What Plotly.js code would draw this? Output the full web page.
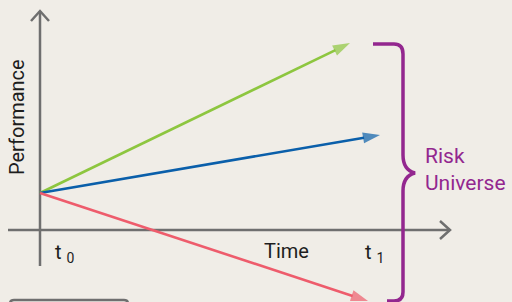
<!DOCTYPE html>
<html>
<head>
<meta charset="utf-8">
<script src="https://cdn.plot.ly/plotly-3.0.1.min.js"></script>
<style>
  html, body { margin: 0; padding: 0; background: #F0EDE7; }
  #chart { width: 512px; height: 302px; }
</style>
</head>
<body>
<div id="chart"></div>
<script>
// ---- data (conceptual units: time from t0, performance above the time axis) ----
const scenarioNames = ['Upside', 'Expected', 'Downside'];
const startTime = 0;
const startPerf = 37;
const endTime = [310, 340, 328];
const endPerf = [187, 95, -71];

const timeAxisSpan = [-32, 410];
const perfAxisSpan = [-36, 219];

const tickLabels = ['t <sub>0</sub>', 't <sub>1</sub>'];
const tickTimes = [13, 323];
const axisTitles = ['Time', 'Performance'];
const bracketLabel = 'Risk<br>Universe';

// brace: left end, spine, tip, top and bottom values
const braceLeft = [333, 347];
const braceSpine = 363;
const braceTip = [375, 57];
const braceTopBottom = [186, -71];

// ---- styles ----
const lineColors = ['#8DC63F', '#0A5FAA', '#EE5C6C'];
const axisColor = '#6F6F6F';
const purple = '#93278F';
const textColor = '#1E1E1E';
const FONT = 'Roboto, "Open Sans", Arial, sans-serif';
const chevLen = 10, chevHalf = 9;

const traces = [];
// axes with open chevron heads
traces.push({
  type: 'scatter', mode: 'lines',
  x: [timeAxisSpan[0], timeAxisSpan[1], null,
      timeAxisSpan[1] - chevLen, timeAxisSpan[1], timeAxisSpan[1] - chevLen],
  y: [0, 0, null, chevHalf, 0, -chevHalf],
  line: { color: axisColor, width: 2.5 }, hoverinfo: 'skip', showlegend: false
});
traces.push({
  type: 'scatter', mode: 'lines',
  x: [0, 0, null, -chevHalf, 0, chevHalf],
  y: [perfAxisSpan[0], perfAxisSpan[1], null,
      perfAxisSpan[1] - chevLen, perfAxisSpan[1], perfAxisSpan[1] - chevLen],
  line: { color: axisColor, width: 2.5 }, hoverinfo: 'skip', showlegend: false
});
// scenario arrows
scenarioNames.forEach((n, i) => {
  traces.push({
    type: 'scatter', mode: 'lines+markers', name: n,
    x: [startTime, endTime[i]], y: [startPerf, endPerf[i]],
    line: { color: lineColors[i], width: 2.6 },
    marker: { symbol: ['circle', 'arrow'], size: [0, 18], angleref: 'previous',
              color: lineColors[i], line: { width: 0 } },
    hoverinfo: 'skip', showlegend: false
  });
});

const annotations = [];
annotations.push({
  x: -23, y: 113, xref: 'x', yref: 'y', text: axisTitles[1], textangle: -90,
  showarrow: false, font: { family: FONT, size: 20, color: textColor }
});
annotations.push({
  x: 246, y: -21, xref: 'x', yref: 'y', text: axisTitles[0],
  showarrow: false, font: { family: FONT, size: 20, color: textColor }
});
tickLabels.forEach((t, i) => {
  annotations.push({
    x: tickTimes[i], y: -23, xref: 'x', yref: 'y', text: t, xanchor: 'left',
    showarrow: false, font: { family: FONT, size: 20, color: textColor }
  });
});
annotations.push({
  x: 383, y: 61, xref: 'x', yref: 'y', text: bracketLabel, xanchor: 'left', align: 'left',
  showarrow: false, font: { family: FONT, size: 21, color: purple }
});

const bTop = braceTopBottom[0], bBot = braceTopBottom[1], bS = braceSpine;
const bracePath =
  `M ${braceLeft[0]},${bTop} L ${bS - 9},${bTop} Q ${bS},${bTop} ${bS},${bTop - 10} ` +
  `L ${bS},${braceTip[1] + 18} Q ${bS},${braceTip[1] + 3} ${braceTip[0]},${braceTip[1]} ` +
  `Q ${bS},${braceTip[1] - 3} ${bS},${braceTip[1] - 18} ` +
  `L ${bS},${bBot + 9} Q ${bS},${bBot} ${bS - 9},${bBot} L ${braceLeft[1]},${bBot}`;

const boxPath = 'M -30,-80 L -30,-74 Q -30,-70 -26,-70 L 84,-70 Q 88,-70 88,-74 L 88,-80';

const layout = {
  width: 512, height: 302,
  margin: { l: 0, r: 0, t: 0, b: 0, pad: 0 },
  paper_bgcolor: '#F0EDE7', plot_bgcolor: '#F0EDE7',
  xaxis: { range: [-40, 472], visible: false, fixedrange: true },
  yaxis: { range: [-72, 230], visible: false, fixedrange: true },
  showlegend: false,
  annotations: annotations,
  shapes: [
    { type: 'path', xref: 'x', yref: 'y', path: bracePath, line: { color: purple, width: 3.5 } },
    { type: 'path', xref: 'x', yref: 'y', path: boxPath, line: { color: axisColor, width: 2.5 } }
  ]
};

Plotly.newPlot('chart', traces, layout, { staticPlot: true, displayModeBar: false });
</script>
</body>
</html>
